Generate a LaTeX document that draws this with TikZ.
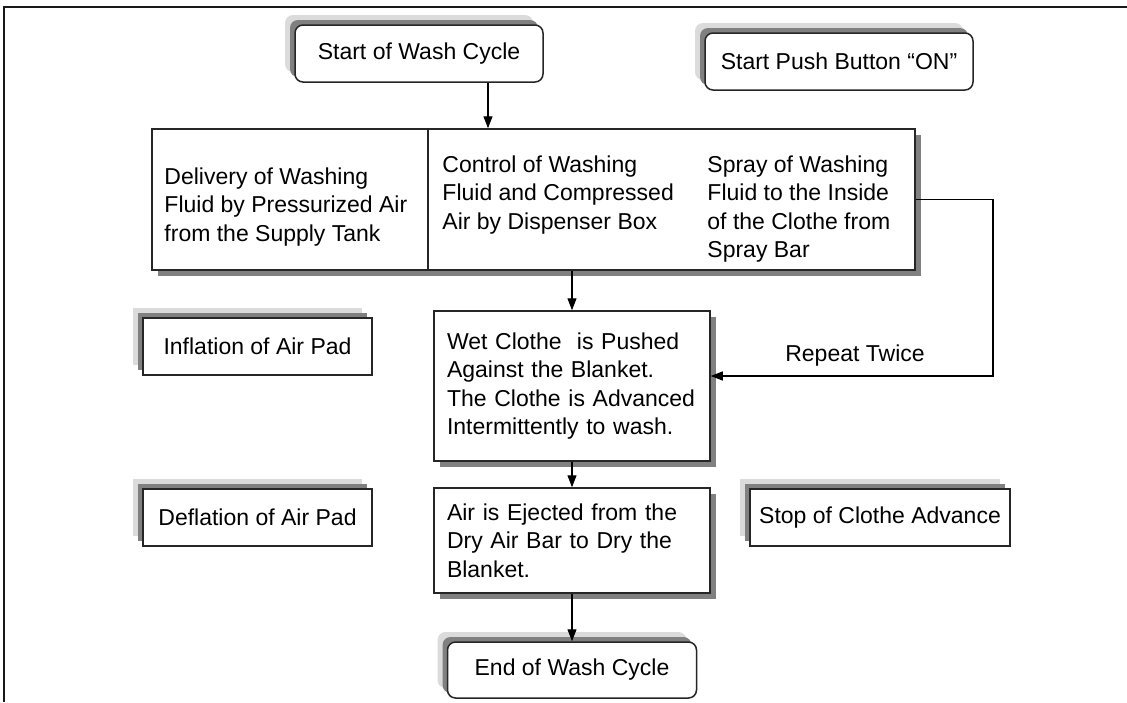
\documentclass[tikz,border=0pt]{standalone}
\usepackage{fontspec}
\setmainfont{Liberation Sans}
\usetikzlibrary{arrows.meta,shadows}

\tikzset{
  upshade/.style={general shadow={shadow xshift=-10pt, shadow yshift=10pt, fill=black!14},
                  general shadow={shadow xshift=-5pt, shadow yshift=5pt, fill=black!50}},
  downshade/.style={general shadow={shadow xshift=6pt, shadow yshift=-6pt, fill=black!50}},
  termbox/.style={draw=black!85, line width=1.5pt, fill=white, rounded corners=8pt, upshade, inner sep=0pt},
  sidebox/.style={draw=black!85, line width=1.5pt, fill=white, upshade, inner sep=0pt},
  procbox/.style={draw=black!85, line width=1.5pt, fill=white, downshade, inner xsep=13pt, text width=250pt, align=left},
  boxtext/.style={inner sep=0pt, align=left, anchor=north west},
  flow/.style={line width=1.1pt, -{Triangle[length=12pt,width=9pt]}}
}

\begin{document}
\begin{tikzpicture}[x=1pt, y=-1pt, font=\fontsize{23pt}{28.5pt}\selectfont]
    \useasboundingbox (0,0) rectangle (1127,702);

    % Frame
    \draw [line width=2.5pt, black!90] (1127,7) -- (4,7) -- (4,702);

    % Start and push button
    \node [termbox, minimum width=248pt, minimum height=57pt] (start) at (419,53.5) {Start of Wash Cycle};
    \node [termbox, minimum width=268pt, minimum height=57pt] (push) at (839,61.5) {Start Push Button “ON”};

    % Fluid supply
    \node [procbox, minimum height=141pt] (deliv) at (290,199.5) {};
    \node [boxtext] (delivtxt) at ([xshift=13pt, yshift=-39pt]deliv.north west)
        {Delivery of Washing\\Fluid by Pressurized Air\\from the Supply Tank};
    \node [procbox, text width=461pt, minimum height=141pt] (ctrl) at (671.5,199.5) {};
    \node [boxtext] (ctrltxt) at ([xshift=15pt, yshift=-27pt]ctrl.north west)
        {Control of Washing\\Fluid and Compressed\\Air by Dispenser Box};
    \node [boxtext] (spraytxt) at ([xshift=280pt, yshift=-27pt]ctrl.north west)
        {Spray of Washing\\Fluid to the Inside\\of the Clothe from\\Spray Bar};

    % Washing
    \node [sidebox, minimum width=229pt, minimum height=57pt] (infl) at (257.5,346.5) {Inflation of Air Pad};
    \node [procbox, minimum height=150pt] (wet) at (572,386)
        {Wet Clothe\ \ is Pushed\\Against the Blanket.\\The Clothe is Advanced\\Intermittently to wash.};
    \node (rep) at (855,356) {Repeat Twice};

    % Drying
    \node [sidebox, minimum width=229pt, minimum height=57pt] (defl) at (257.5,517.5) {Deflation of Air Pad};
    \node [procbox, minimum height=105pt] (air) at (572,540.5)
        {Air is Ejected from the\\Dry Air Bar to Dry the\\Blanket.};
    \node [sidebox, minimum width=260pt, minimum height=57pt] (stop) at (880,517.5) {Stop of Clothe Advance};

    % End
    \node [termbox, minimum width=249pt, minimum height=56pt] (end) at (572,670) {End of Wash Cycle};

    % Connectors
    \coordinate (loopx) at (993,199.5);
    \draw [flow] ([xshift=69pt]start.south) -- ([xshift=69pt]start.south |- ctrl.north);
    \draw [flow] (ctrl.south -| wet.north) -- (wet.north);
    \draw [flow] (ctrl.east) -- (loopx) |- ([yshift=10pt]wet.east);
    \draw [flow] (wet.south) -- (air.north);
    \draw [flow] (air.south) -- (end.north);
\end{tikzpicture}
\end{document}
